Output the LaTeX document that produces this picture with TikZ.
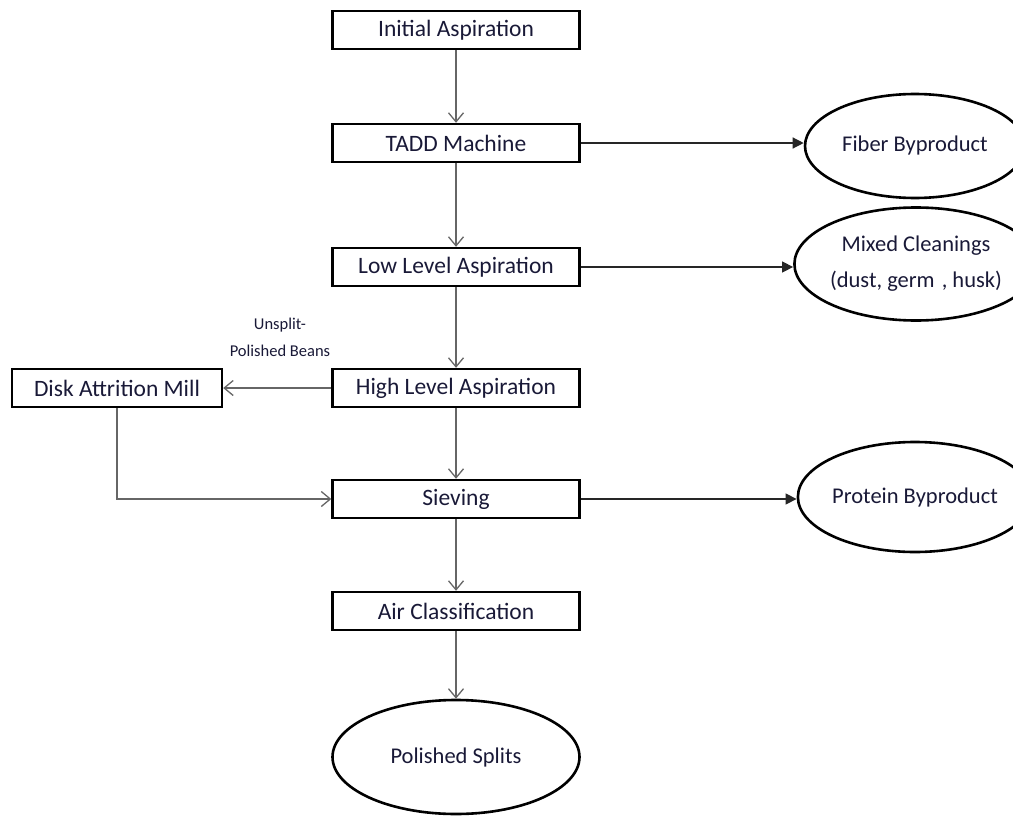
\documentclass[tikz,border=0pt]{standalone}
\usepackage{fontspec}
\setmainfont{Carlito}
\usetikzlibrary{arrows.meta}
\usetikzlibrary{shapes.geometric}
\definecolor{ink}{RGB}{25,25,55}
\tikzset{
    box/.style={draw, line width=2.4pt, minimum width=247pt, minimum height=38pt, inner sep=0pt, text=ink, font=\fontsize{23.5}{25}\selectfont},
    oval/.style={draw, ellipse, line width=2.6pt, minimum width=220pt, minimum height=104pt, inner sep=0pt, align=center, text=ink, font=\fontsize{22.5}{36}\selectfont},
    flow/.style={draw=black!60, line width=1.1pt, -{Straight Barb[length=9pt,width=15pt,line width=1.3pt]}},
    side/.style={draw=black!85, line width=1.3pt, -{Triangle[length=11pt,width=11pt]}},
}

\begin{document}
\begin{tikzpicture}[x=1pt, y=-1pt]
\useasboundingbox (0,0) rectangle (1013,816);

\node[box] (init) at (456,30) {Initial Aspiration};
\node[box] (tadd) at (456,143) {TADD Machine};
\node[box] (low) at (456,267) {Low Level Aspiration};
\node[box] (high) at (456,388) {High Level Aspiration};
\node[box, minimum width=210pt] (disk) at (117,388) {Disk Attrition Mill};
\node[box] (siev) at (456,499) {Sieving};
\node[box] (air) at (456,611) {Air Classification};
\node[oval, minimum width=247pt, minimum height=114pt] (split) at (456,757) {Polished Splits};

\node[oval] (fiber) at (915,146) {Fiber Byproduct};
\node[oval, minimum width=224pt, minimum height=113pt] (mixed) at (916,264) {Mixed Cleanings\\(dust, germ\hspace{2pt} , husk)};
\node[oval, minimum width=224pt, minimum height=110pt] (protein) at (915,497) {Protein Byproduct};

\node[text=ink, align=center, font=\fontsize{16.5}{27}\selectfont] (beans) at (280,337) {Unsplit-\\Polished Beans};

\draw[flow] (init) -- (tadd);
\draw[flow] (tadd) -- (low);
\draw[flow] (low) -- (high);
\draw[flow] (high) -- (siev);
\draw[flow] (siev) -- (air);
\draw[flow] (air) -- (split);
\draw[flow] (high) -- (disk);
\draw[flow] (disk.south) |- (siev.west);

\draw[side] (tadd.east) -- (tadd.east -| fiber.west);
\draw[side] (low.east) -- (low.east -| mixed.west);
\draw[side] (siev.east) -- (siev.east -| protein.west);
\end{tikzpicture}
\end{document}
